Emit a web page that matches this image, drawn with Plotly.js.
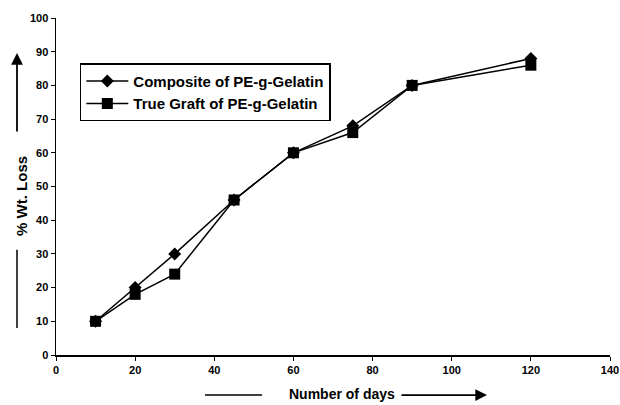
<!DOCTYPE html>
<html><head><meta charset="utf-8">
<script src="https://cdn.plot.ly/plotly-3.0.1.min.js"></script>
<style>html,body{margin:0;padding:0;background:#fff}#chart{width:620px;height:405px}</style>
</head><body><div id="chart"></div>
<script>
const days = [10, 20, 30, 45, 60, 75, 90, 120];
const compositeLoss = [10, 20, 30, 46, 60, 68, 80, 88];
const trueGraftLoss = [10, 18, 24, 46, 60, 66, 80, 86];
const seriesNames = ["Composite of PE-g-Gelatin", "True Graft of PE-g-Gelatin"];
const xTicks = [0, 20, 40, 60, 80, 100, 120, 140];
const yTicks = [0, 10, 20, 30, 40, 50, 60, 70, 80, 90, 100];

const fontFam = "Liberation Sans, Arial, sans-serif";
const traces = [
  {x: days, y: compositeLoss, name: seriesNames[0], mode: "lines+markers",
   line: {color: "#000", width: 1.5}, marker: {symbol: "diamond", size: 10, color: "#000"}},
  {x: days, y: trueGraftLoss, name: seriesNames[1], mode: "lines+markers",
   line: {color: "#000", width: 1.5}, marker: {symbol: "square", size: 11, color: "#000"}}
];
const layout = {
  width: 620, height: 405,
  margin: {l: 56, r: 10, t: 18, b: 50},
  paper_bgcolor: "#fff", plot_bgcolor: "#fff",
  font: {family: fontFam, color: "#000"},
  showlegend: true,
  legend: {x: 0.043, y: 0.866, xanchor: "left", yanchor: "top",
    bordercolor: "#000", borderwidth: 1.5, bgcolor: "#fff", itemwidth: 42,
    font: {size: 15, family: fontFam, weight: "bold"}, tracegroupgap: 0},
  xaxis: {range: [0, 140], tickvals: xTicks, ticktext: xTicks.map(String),
    showgrid: false, zeroline: false, showline: true, linecolor: "#000", linewidth: 1.5,
    ticks: "outside", ticklen: 4, tickcolor: "#000",
    tickfont: {size: 11, family: fontFam, weight: "bold"}},
  yaxis: {range: [0, 100], tickvals: yTicks, ticktext: yTicks.map(String),
    showgrid: false, zeroline: false, showline: true, linecolor: "#000", linewidth: 1.5,
    ticks: "outside", ticklen: 4, tickcolor: "#000",
    tickfont: {size: 11, family: fontFam, weight: "bold"}},
  annotations: [
    {xref: "paper", yref: "paper", x: -0.0614, y: 0.472, xanchor: "center", yanchor: "middle",
     text: "% Wt. Loss", textangle: -90,
     showarrow: false, font: {size: 15, family: fontFam, weight: "bold"}},
    {xref: "paper", yref: "paper", x: 0.516, y: -0.116, xanchor: "center", yanchor: "middle",
     text: "Number of days",
     showarrow: false, font: {size: 14, family: fontFam, weight: "bold"}},
    {xref: "paper", yref: "paper", x: -0.0704, y: 0.896, ax: 0, ay: 80, text: "",
     showarrow: true, arrowhead: 2, arrowsize: 1.3, arrowwidth: 1.8, arrowcolor: "#000"},
    {xref: "paper", yref: "paper", x: 0.778, y: -0.119, ax: -87, ay: 0, text: "",
     showarrow: true, arrowhead: 2, arrowsize: 1.3, arrowwidth: 1.8, arrowcolor: "#000"}
  ],
  shapes: [
    {type: "line", xref: "paper", yref: "paper", x0: -0.0704, x1: -0.0704, y0: 0.312, y1: 0.080,
     line: {color: "#000", width: 1.5}},
    {type: "line", xref: "paper", yref: "paper", x0: 0.269, x1: 0.372, y0: -0.119, y1: -0.119,
     line: {color: "#000", width: 1.5}}
  ]
};
Plotly.newPlot("chart", traces, layout, {displayModeBar: false, staticPlot: true});
</script></body></html>
